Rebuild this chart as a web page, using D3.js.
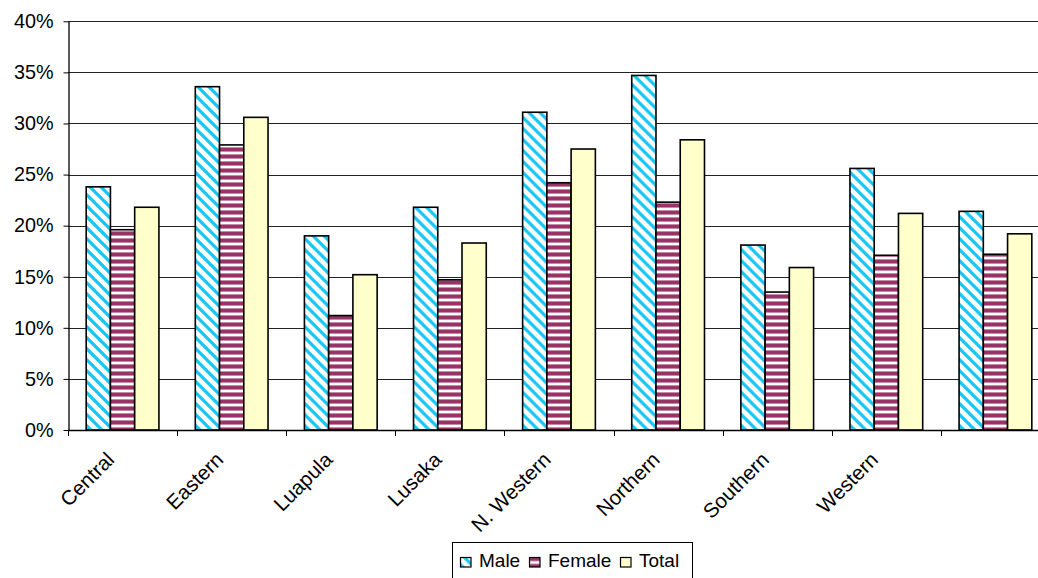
<!DOCTYPE html>
<html>
<head>
<meta charset="utf-8">
<script src="https://cdn.jsdelivr.net/npm/d3@7"></script>
<style>
  html, body { margin: 0; padding: 0; background: #fff; overflow: hidden; }
  svg { display: block; font-family: "Liberation Sans", Arial, sans-serif; }
</style>
</head>
<body>
<svg id="chart" width="1038" height="578"></svg>
<script>
// Provinces (the last group has no label on the axis)
const categories = ["Central", "Eastern", "Luapula", "Lusaka", "N. Western", "Northern", "Southern", "Western", ""];
const series = ["Male", "Female", "Total"];
const maleValues   = [0.238, 0.336, 0.190, 0.218, 0.311, 0.347, 0.181, 0.256, 0.214];
const femaleValues = [0.196, 0.279, 0.112, 0.147, 0.242, 0.223, 0.135, 0.171, 0.172];
const totalValues  = [0.218, 0.306, 0.152, 0.183, 0.275, 0.284, 0.159, 0.212, 0.192];
const yTicks = [0, 0.05, 0.10, 0.15, 0.20, 0.25, 0.30, 0.35, 0.40];

const valuesBySeries = { Male: maleValues, Female: femaleValues, Total: totalValues };
const rows = categories.map((c, i) => ({
  category: c,
  values: series.map(s => ({ series: s, value: valuesBySeries[s][i] }))
}));

const svg = d3.select("#chart");
const plotLeft = 68, plotTop = 21.3, plotBottom = 430;
const plotWidth = 982;

const x0 = d3.scaleBand().domain(categories).range([plotLeft, plotLeft + plotWidth]).padding(0);
const x1 = d3.scaleBand().domain(series).range([0, x0.bandwidth()]).paddingInner(0).paddingOuter(0.75);
const y = d3.scaleLinear().domain([0, 0.40]).range([plotBottom, plotTop]);

// Fill patterns
const defs = svg.append("defs");
const pm = defs.append("pattern").attr("id", "pat-male")
  .attr("patternUnits", "userSpaceOnUse").attr("width", 11).attr("height", 11);
pm.append("rect").attr("width", 11).attr("height", 11).attr("fill", "#fff");
pm.append("path").attr("d", "M0,0L11,11M-3,8L3,14M8,-3L14,3")
  .attr("stroke", "#14c6f4").attr("stroke-width", 3.2).attr("fill", "none");

const pf = defs.append("pattern").attr("id", "pat-female")
  .attr("patternUnits", "userSpaceOnUse").attr("width", 8).attr("height", 7);
pf.append("rect").attr("width", 8).attr("height", 7).attr("fill", "#fff");
pf.append("rect").attr("y", 0).attr("width", 8).attr("height", 1).attr("fill", "#c48aa8");
pf.append("rect").attr("y", 1).attr("width", 8).attr("height", 3).attr("fill", "#993366");
pf.append("rect").attr("y", 4).attr("width", 8).attr("height", 1).attr("fill", "#c48aa8");

const fills = { Male: "url(#pat-male)", Female: "url(#pat-female)", Total: "#ffffcc" };

// Gridlines
svg.append("g")
  .selectAll("line").data(yTicks.filter(d => d > 0)).join("line")
  .attr("x1", plotLeft).attr("x2", 1038)
  .attr("y1", d => Math.round(y(d)) + 0.5).attr("y2", d => Math.round(y(d)) + 0.5)
  .attr("stroke", "#222").attr("stroke-width", 1);

// Bars
svg.append("g")
  .selectAll("g").data(rows).join("g")
  .attr("transform", d => `translate(${x0(d.category)},0)`)
  .selectAll("rect").data(d => d.values).join("rect")
  .attr("x", d => x1(d.series))
  .attr("y", d => y(d.value))
  .attr("width", x1.bandwidth())
  .attr("height", d => plotBottom - y(d.value))
  .attr("fill", d => fills[d.series])
  .attr("stroke", "#000").attr("stroke-width", 1.6);

// Y axis
const yAxis = svg.append("g")
  .attr("transform", `translate(${plotLeft + 0.5},0)`)
  .call(d3.axisLeft(y).tickValues(yTicks).tickFormat(d3.format(".0%")).tickSizeInner(5).tickSizeOuter(0).tickPadding(10));
yAxis.select(".domain").attr("stroke", "#000").attr("stroke-width", 1.3);
yAxis.selectAll(".tick line").attr("stroke", "#000");
yAxis.selectAll(".tick text").attr("font-size", 19.8).attr("fill", "#000")
  .attr("font-family", "'Liberation Sans', Arial, sans-serif");

// X axis: ticks at group boundaries
const xg = svg.append("g");
xg.append("line").attr("x1", plotLeft).attr("x2", 1038)
  .attr("y1", plotBottom + 0.5).attr("y2", plotBottom + 0.5)
  .attr("stroke", "#000").attr("stroke-width", 1.3);
xg.selectAll("line.tk").data(categories).join("line").attr("class", "tk")
  .attr("x1", d => Math.round(x0(d)) + 0.5).attr("x2", d => Math.round(x0(d)) + 0.5)
  .attr("y1", plotBottom).attr("y2", plotBottom + 6)
  .attr("stroke", "#000");
xg.selectAll("text").data(categories).join("text")
  .attr("transform", d => `translate(${x0(d) + x0.bandwidth() / 2 - 7},${plotBottom + 31}) rotate(-45)`)
  .attr("text-anchor", "end")
  .attr("font-size", 20.5)
  .attr("fill", "#000")
  .text(d => d);

// Legend
const legend = svg.append("g").attr("transform", "translate(452.5,542.5)");
legend.append("rect").attr("width", 240).attr("height", 40)
  .attr("fill", "#fff").attr("stroke", "#000").attr("stroke-width", 1);
const legendItems = [
  { series: "Male", x: 8 },
  { series: "Female", x: 77 },
  { series: "Total", x: 168 }
];
const li = legend.selectAll("g").data(legendItems).join("g")
  .attr("transform", d => `translate(${d.x},0)`);
li.append("rect").attr("x", 0).attr("y", 15).attr("width", 10.5).attr("height", 9.5)
  .attr("fill", d => fills[d.series]).attr("stroke", "#000").attr("stroke-width", 1.2);
li.append("text").attr("x", 18.5).attr("y", 24.5)
  .attr("font-size", 19).attr("fill", "#000")
  .text(d => d.series);
</script>
</body>
</html>
